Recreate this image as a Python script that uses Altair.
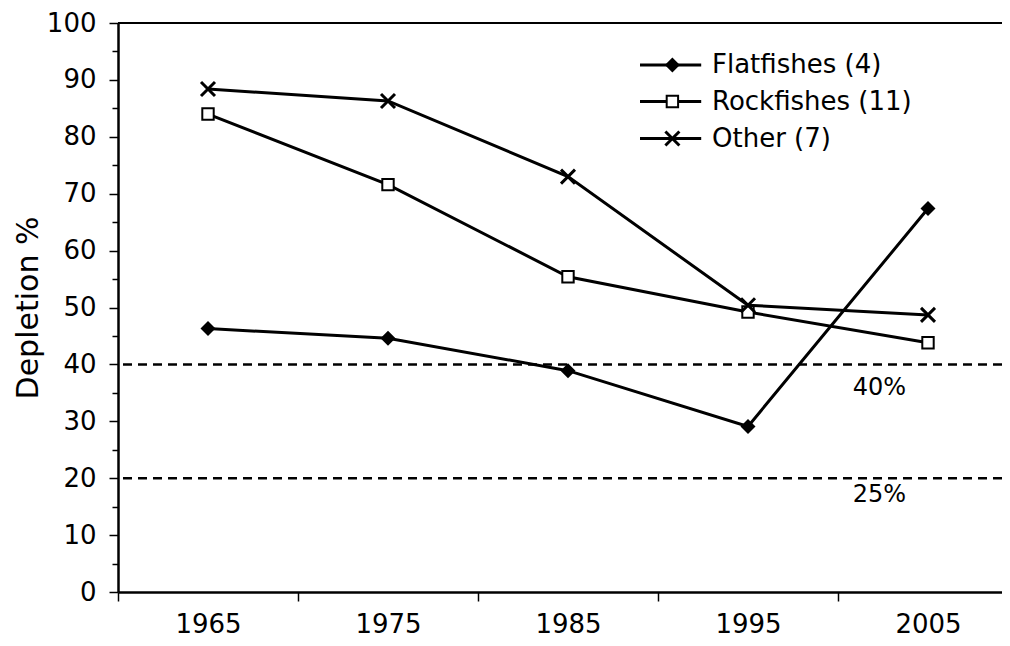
import altair as alt
import pandas as pd

# ---- data ----
years = [1965, 1975, 1985, 1995, 2005]
flatfishes = [46.3, 44.6, 38.9, 29.1, 67.4]
rockfishes = [84.0, 71.6, 55.4, 49.2, 43.8]
other = [88.4, 86.3, 73.0, 50.4, 48.7]
series_names = ["Flatfishes (4)", "Rockfishes (11)", "Other (7)"]
ref_levels = [40, 20]
ref_labels = ["40%", "25%"]
y_title = "Depletion %"

# ---- layout constants (not data) ----
FONT = "DejaVu Sans"
W, H = 884, 569
PX_PER_YEAR = 18.0
X_MIN = 1960
X_MAX = X_MIN + W / PX_PER_YEAR
ref_label_x = 2002.3
ref_label_y = [35.8, 17.0]
leg_line_x = (1989.0, 1992.4)
leg_marker_x = 1990.8
leg_text_x = 1993.0
leg_row_y = [92.6, 86.2, 79.7]

x_scale = alt.Scale(domain=[X_MIN, X_MAX], nice=False, zero=False)
y_scale = alt.Scale(domain=[0, 100], nice=False, zero=True)

x_axis = alt.Axis(
    values=list(range(1960, 2010, 5)),
    labelExpr="datum.value % 10 == 5 ? datum.label : ''",
    format="d",
    tickSize=9,
    tickWidth=1.5,
    tickColor={"condition": {"test": "datum.value % 10 == 5", "value": "transparent"}, "value": "black"},
    labelPadding=10,
    labelFontSize=26,
    labelFont=FONT,
    labelColor="black",
    domainColor="black",
    domainWidth=2.5,
    grid=False,
    title=None,
    labelOverlap=False,
)
y_axis = alt.Axis(
    values=list(range(0, 101, 5)),
    labelExpr="datum.value % 10 == 0 ? datum.label : ''",
    tickSize={"condition": {"test": "datum.value % 10 != 0", "value": 6}, "value": 9},
    tickWidth=1.5,
    tickColor="black",
    labelPadding=13,
    labelFontSize=26,
    labelFont=FONT,
    labelColor="black",
    domainColor="black",
    domainWidth=2.5,
    grid=False,
    title=y_title,
    titleFont=FONT,
    titleFontSize=30,
    titleFontWeight="normal",
    titleColor="black",
    titlePadding=3,
    labelOverlap=False,
)


def X(field):
    return alt.X(field, type="quantitative", scale=x_scale, axis=x_axis)


def Y(field):
    return alt.Y(field, type="quantitative", scale=y_scale, axis=y_axis)


rows = []
for name, vals in zip(series_names, [flatfishes, rockfishes, other]):
    for yr, v in zip(years, vals):
        rows.append({"series": name, "year": yr, "value": v})
df = pd.DataFrame(rows)

ref_df = pd.DataFrame({"level": ref_levels, "label": ref_labels, "ly": ref_label_y, "lx": [ref_label_x] * 2})

leg_df = pd.DataFrame({
    "series": series_names,
    "ly": leg_row_y,
    "x1": [leg_line_x[0]] * 3,
    "x2": [leg_line_x[1]] * 3,
    "mx": [leg_marker_x] * 3,
    "tx": [leg_text_x] * 3,
})

X_PATH = "M-1,-1L1,1M-1,1L1,-1"
marker_marks = {
    series_names[0]: dict(shape="diamond", size=225, filled=True, color="black"),
    series_names[1]: dict(shape="square", size=130, filled=False, color="black", strokeWidth=2, fill="white"),
    series_names[2]: dict(shape=X_PATH, size=196, filled=False, color="black", strokeWidth=3),
}

base = alt.Chart(df)

top_rule = alt.Chart(pd.DataFrame({"v": [100]})).mark_rule(color="black", strokeWidth=2).encode(y=Y("v"))

ref_rules = alt.Chart(ref_df).mark_rule(color="black", strokeWidth=2.5, strokeDash=[9, 6]).encode(y=Y("level"))

ref_text = alt.Chart(ref_df).mark_text(font=FONT, fontSize=24, color="black", align="center", baseline="middle").encode(
    x=X("lx"), y=Y("ly"), text="label:N"
)

lines = base.mark_line(color="black", strokeWidth=3).encode(x=X("year"), y=Y("value"), detail="series:N")

layers = [top_rule, ref_rules, ref_text, lines]

for name, style in marker_marks.items():
    layers.append(
        base.transform_filter(alt.datum.series == name).mark_point(opacity=1, **style).encode(x=X("year"), y=Y("value"))
    )

leg_base = alt.Chart(leg_df)
layers.append(leg_base.mark_rule(color="black", strokeWidth=3).encode(x=X("x1"), x2="x2", y=Y("ly")))
for name, style in marker_marks.items():
    layers.append(
        leg_base.transform_filter(alt.datum.series == name).mark_point(opacity=1, **style).encode(x=X("mx"), y=Y("ly"))
    )
layers.append(
    leg_base.mark_text(font=FONT, fontSize=26, color="black", align="left", baseline="middle").encode(
        x=X("tx"), y=Y("ly"), text="series:N"
    )
)

chart = (
    alt.layer(*layers)
    .properties(
        width=W,
        height=H,
        padding={"left": 110, "top": 15, "right": 0, "bottom": 46},
        autosize=alt.AutoSizeParams(type="none"),
        background="white",
    )
    .configure_view(stroke=None)
)

chart.save("out.html", embed_options={"renderer": "svg", "actions": False})
